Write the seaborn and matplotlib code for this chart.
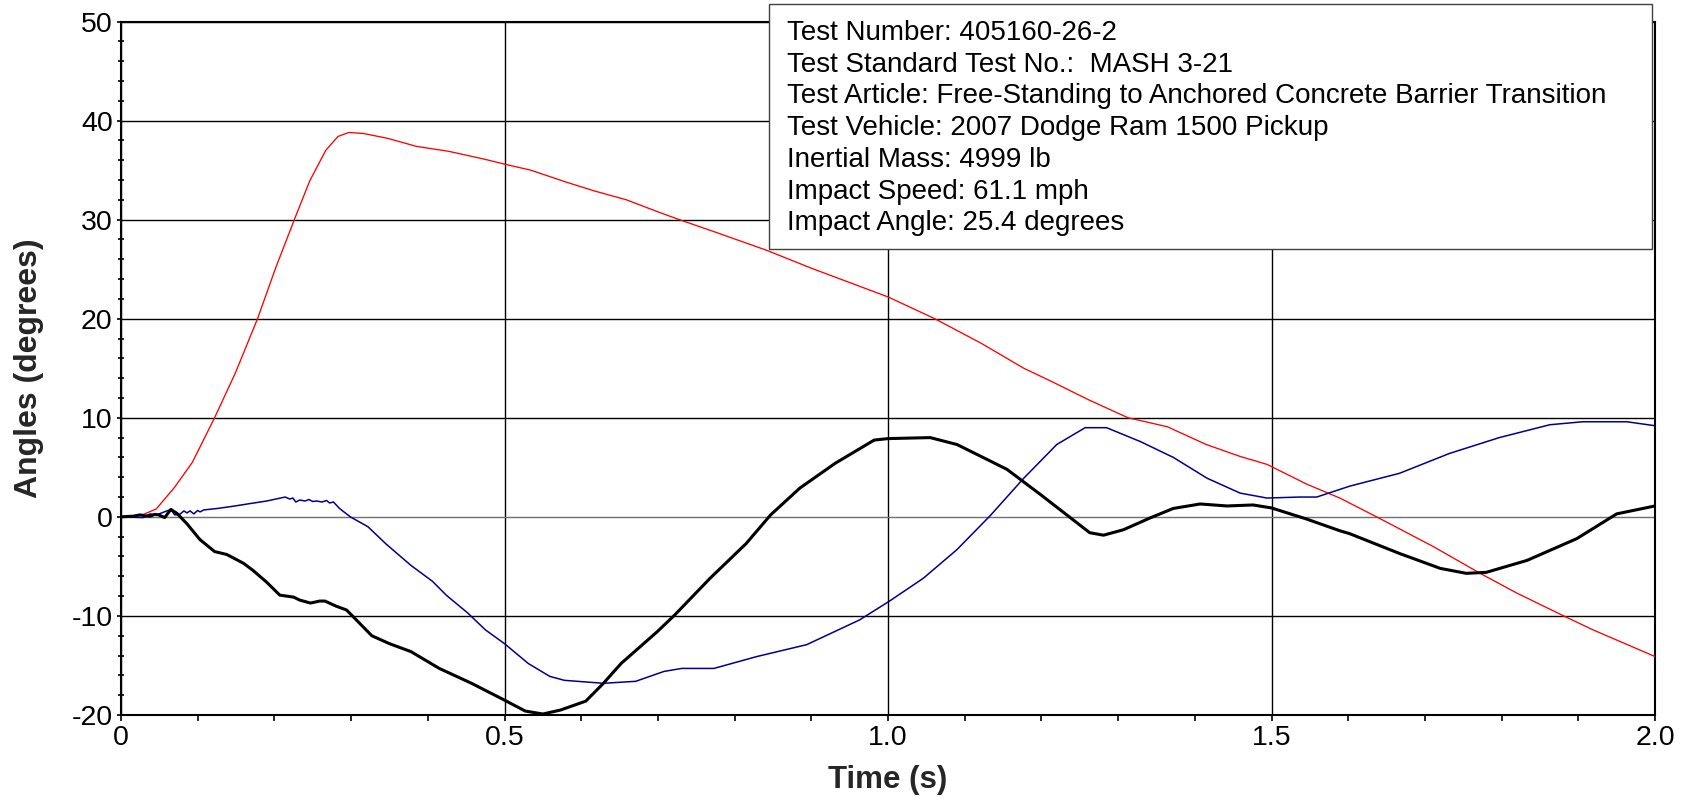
import numpy as np
import pandas as pd
import matplotlib
matplotlib.use("Agg")
import matplotlib.pyplot as plt
import seaborn as sns
from matplotlib.patches import Rectangle
from matplotlib.ticker import MultipleLocator

# ---------------- data ----------------
yaw_t = [0, 0.015, 0.028, 0.046, 0.07, 0.093, 0.122, 0.149, 0.178, 0.202, 0.226, 0.246,
         0.267, 0.283, 0.297, 0.316, 0.348, 0.385, 0.427, 0.474, 0.5, 0.534, 0.58, 0.617,
         0.659, 0.703, 0.728, 0.78, 0.842, 0.9, 1.0, 1.061, 1.122, 1.177, 1.215, 1.262,
         1.313, 1.364, 1.415, 1.459, 1.494, 1.546, 1.589, 1.637, 1.711, 1.772, 1.82,
         1.881, 1.919, 2.0]
yaw_v = [0, 0.0, 0.2, 0.8, 3.0, 5.5, 10.0, 14.5, 20.0, 25.2, 30.0, 33.9,
         37.0, 38.4, 38.8, 38.7, 38.2, 37.4, 36.9, 36.1, 35.6, 35.0, 33.8, 32.9,
         32.0, 30.7, 30.0, 28.6, 26.9, 25.1, 22.2, 20.0, 17.5, 15.0, 13.6, 11.8,
         10.0, 9.1, 7.3, 6.1, 5.3, 3.3, 1.9, 0.0, -3.0, -5.7, -7.7,
         -10.0, -11.4, -14.1]

pitch_t = [0, 0.029, 0.038, 0.046, 0.053, 0.065, 0.07, 0.077, 0.082, 0.086, 0.09, 0.095,
           0.1, 0.103, 0.108, 0.125, 0.147, 0.169, 0.19, 0.214, 0.22, 0.224, 0.228, 0.233,
           0.24, 0.245, 0.25, 0.255, 0.262, 0.268, 0.272, 0.277, 0.285, 0.299, 0.322,
           0.345, 0.378, 0.406, 0.424, 0.452, 0.475, 0.5, 0.531, 0.559, 0.578, 0.629,
           0.671, 0.708, 0.731, 0.773, 0.829, 0.894, 0.963, 1.002, 1.046, 1.09, 1.133,
           1.177, 1.22, 1.257, 1.285, 1.329, 1.372, 1.416, 1.459, 1.494, 1.537, 1.559,
           1.602, 1.667, 1.732, 1.797, 1.863, 1.906, 1.963, 2.0]
pitch_v = [0, -0.07, 0.3, 0.17, 0.4, 0.75, 0.2, 0.27, 0.6, 0.4, 0.6, 0.3,
           0.65, 0.5, 0.7, 0.84, 1.08, 1.35, 1.6, 2.0, 1.8, 1.9, 1.5, 1.7,
           1.6, 1.75, 1.55, 1.6, 1.5, 1.65, 1.4, 1.5, 0.84, 0.0, -1.0,
           -2.7, -4.9, -6.5, -7.9, -9.7, -11.4, -12.8, -14.8, -16.1, -16.5, -16.8,
           -16.6, -15.6, -15.3, -15.3, -14.1, -12.9, -10.4, -8.5, -6.2, -3.3, 0.1,
           3.9, 7.3, 9.0, 9.0, 7.6, 6.0, 3.9, 2.4, 1.9, 2.0, 2.0,
           3.1, 4.4, 6.4, 8.0, 9.3, 9.6, 9.6, 9.2]

roll_t = [0, 0.016, 0.025, 0.032, 0.038, 0.044, 0.049, 0.057, 0.065, 0.073, 0.086, 0.103,
          0.122, 0.138, 0.16, 0.172, 0.19, 0.207, 0.225, 0.233, 0.247, 0.259, 0.266, 0.28,
          0.294, 0.303, 0.327, 0.35, 0.378, 0.415, 0.457, 0.5, 0.527, 0.55, 0.573, 0.606,
          0.629, 0.652, 0.699, 0.722, 0.768, 0.815, 0.847, 0.885, 0.931, 0.982, 1.0,
          1.055, 1.09, 1.155, 1.198, 1.233, 1.263, 1.281, 1.307, 1.342, 1.372, 1.407,
          1.442, 1.476, 1.5, 1.545, 1.589, 1.602, 1.667, 1.72, 1.754, 1.78, 1.833,
          1.898, 1.95, 2.0]
roll_v = [0, 0.07, 0.2, 0.1, 0.07, 0.25, 0.2, -0.07, 0.75, 0.35, -0.7, -2.3,
          -3.5, -3.8, -4.7, -5.4, -6.6, -7.9, -8.1, -8.4, -8.7, -8.5, -8.5, -9.0,
          -9.4, -10.1, -12.0, -12.8, -13.6, -15.3, -16.8, -18.5, -19.6, -19.9, -19.5, -18.6,
          -16.8, -14.8, -11.6, -9.9, -6.2, -2.7, 0.2, 2.9, 5.4, 7.75, 7.9,
          8.0, 7.3, 4.8, 2.3, 0.2, -1.6, -1.85, -1.3, -0.1, 0.85, 1.3,
          1.1, 1.2, 0.9, -0.2, -1.4, -1.7, -3.7, -5.2, -5.7, -5.6, -4.4,
          -2.2, 0.3, 1.1]

info_lines = [
    "Test Number: 405160-26-2",
    "Test Standard Test No.:  MASH 3-21",
    "Test Article: Free-Standing to Anchored Concrete Barrier Transition",
    "Test Vehicle: 2007 Dodge Ram 1500 Pickup",
    "Inertial Mass: 4999 lb",
    "Impact Speed: 61.1 mph",
    "Impact Angle: 25.4 degrees",
]
x_ticks = [0, 0.5, 1.0, 1.5, 2.0]
x_ticklabels = ["0", "0.5", "1.0", "1.5", "2.0"]
y_ticks = [-20, -10, 0, 10, 20, 30, 40, 50]

# ---------------- figure ----------------
sns.set_theme(style="white")
plt.rcParams["font.family"] = ["Liberation Sans", "DejaVu Sans"]
plt.rcParams["axes.unicode_minus"] = False

fig = plt.figure(figsize=(16.84, 8.02), dpi=100)
ax = fig.add_axes([121 / 1684, 1 - 715 / 802, (1655 - 121) / 1684, (715 - 21.5) / 802])

df_yaw = pd.DataFrame({"t": yaw_t, "v": yaw_v})
df_pitch = pd.DataFrame({"t": pitch_t, "v": pitch_v})
df_roll = pd.DataFrame({"t": roll_t, "v": roll_v})

sns.lineplot(data=df_yaw, x="t", y="v", ax=ax, color="#ff0000", linewidth=0.95,
             estimator=None, sort=False, zorder=3)
sns.lineplot(data=df_pitch, x="t", y="v", ax=ax, color="#000090", linewidth=1.1,
             estimator=None, sort=False, zorder=3)
sns.lineplot(data=df_roll, x="t", y="v", ax=ax, color="#000000", linewidth=2.2,
             estimator=None, sort=False, zorder=4)

ax.set_xlim(0, 2.0)
ax.set_ylim(-20, 50)
ax.set_xticks(x_ticks)
ax.set_xticklabels(x_ticklabels)
ax.set_yticks(y_ticks)
ax.xaxis.set_minor_locator(MultipleLocator(0.1))
ax.yaxis.set_minor_locator(MultipleLocator(2))

ax.grid(True, which="major", color="black", linewidth=1.0, zorder=1)
for gl, val in zip(ax.get_ygridlines(), y_ticks):
    if val == 0:
        gl.set_color("#707070")

for sp in ax.spines.values():
    sp.set_color("black")
    sp.set_linewidth(1.5)
    sp.set_visible(True)

ax.tick_params(axis="x", which="both", direction="out", length=4, width=1.2,
               colors="black", labelsize=20.5, pad=3, bottom=True)
ax.tick_params(axis="y", which="major", direction="out", length=3, width=1.2,
               colors="black", labelsize=20.5, pad=3, left=True)
ax.tick_params(axis="y", which="minor", direction="inout", length=5, width=1.2,
               colors="black", left=True)

ax.set_xlabel("Time (s)", fontsize=22.5, fontweight="bold", labelpad=10)
ax.set_ylabel("Angles (degrees)", fontsize=23, fontweight="bold", labelpad=20)

# ---------------- info box ----------------
ax_w = 1655 - 121
ax_h = 715 - 21.5
bx0 = (769 - 121) / ax_w
bx1 = (1652 - 121) / ax_w
by1 = (715 - 4.3) / ax_h
by0 = (715 - 249) / ax_h
ax.add_patch(Rectangle((bx0, by0), bx1 - bx0, by1 - by0, transform=ax.transAxes,
                       facecolor="white", edgecolor="#404040", linewidth=1.0,
                       clip_on=False, zorder=10))
for i, line in enumerate(info_lines):
    yc = 33 + i * 31.7
    ax.text((787 - 121) / ax_w, (715 - yc) / ax_h, line, transform=ax.transAxes,
            ha="left", va="center", fontsize=20,
            family=["Liberation Sans", "DejaVu Sans"],
            color="black", zorder=11, clip_on=False)

fig.savefig("out.png", dpi=100)
